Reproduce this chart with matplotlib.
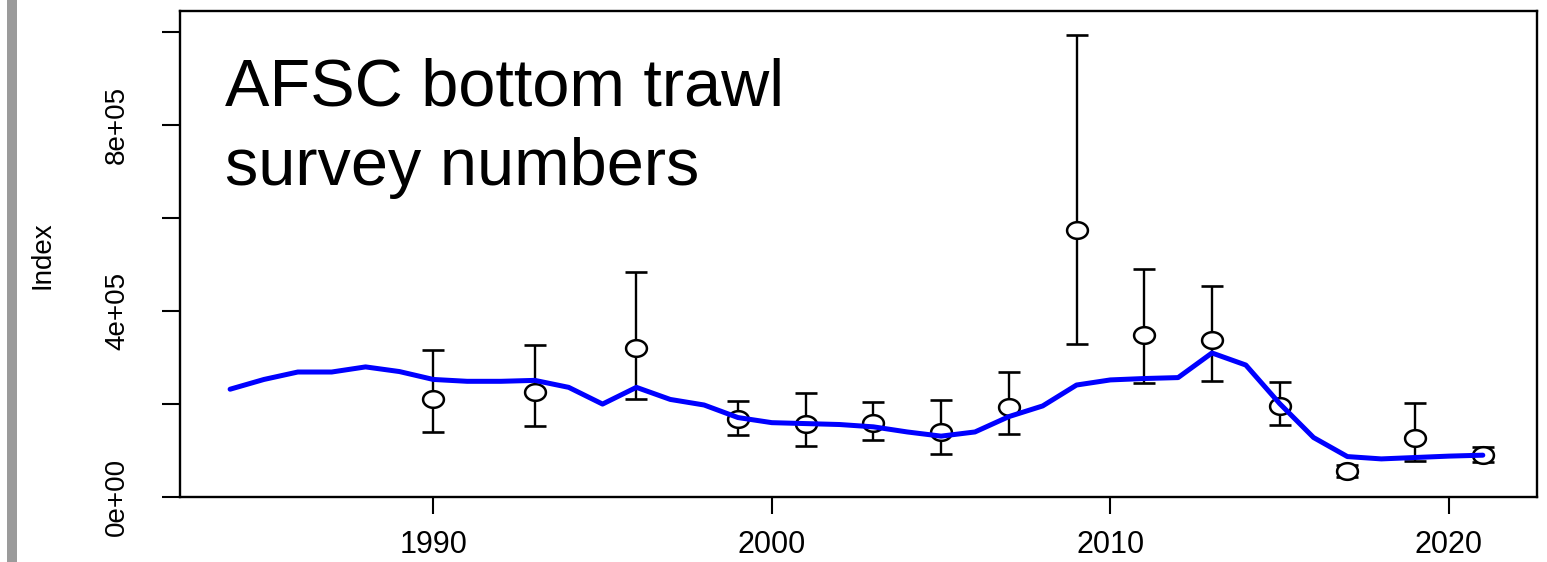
import numpy as np
import matplotlib
matplotlib.use("Agg")
import matplotlib.pyplot as plt
from matplotlib.path import Path
from matplotlib.patches import Rectangle
from matplotlib.ticker import FixedLocator, FixedFormatter

# ---- data ----
fit_years = list(range(1984, 2022))
fit_values = [232e3, 253e3, 269e3, 269e3, 280e3, 270e3, 253e3, 249e3, 249e3, 251e3,
              236e3, 200e3, 236e3, 210e3, 198e3, 171e3, 160e3, 158e3, 156e3, 151e3,
              140e3, 131e3, 140e3, 173e3, 196e3, 241e3, 252e3, 255e3, 257e3, 310e3,
              284e3, 201e3, 128e3, 87e3, 82e3, 85e3, 88e3, 90e3]

obs_years = [1990, 1993, 1996, 1999, 2001, 2003, 2005, 2007, 2009, 2011, 2013, 2015, 2017, 2019, 2021]
obs_values = [211e3, 225e3, 320e3, 168e3, 158e3, 160e3, 140e3, 193e3, 574e3, 348e3, 338e3, 196e3, 56e3, 126e3, 90e3]
obs_lower = [140e3, 153e3, 210e3, 133e3, 110e3, 123e3, 92e3, 135e3, 330e3, 246e3, 249e3, 155e3, 44e3, 78e3, 75e3]
obs_upper = [316e3, 327e3, 484e3, 206e3, 223e3, 205e3, 209e3, 269e3, 994e3, 490e3, 454e3, 247e3, 69e3, 203e3, 108e3]

x_ticks = [1990, 2000, 2010, 2020]
y_ticks = [0, 2e5, 4e5, 6e5, 8e5, 1e6]
y_ticklabels = ["0e+00", "", "4e+05", "", "8e+05", ""]

title_lines = ["AFSC bottom trawl", "survey numbers"]
ylabel_text = "Index"

# ---- figure ----
plt.rcParams['font.family'] = ['Liberation Sans', 'DejaVu Sans']
fig = plt.figure(figsize=(15.47, 5.62), dpi=100)
ax = fig.add_axes([180 / 1547, 65 / 562, 1357 / 1547, 486 / 562])

# grey slide bar at the far left
fig.patches.append(Rectangle((7 / 1547, 0), 10 / 1547, 1, transform=fig.transFigure,
                             facecolor="#9b9b9b", edgecolor="none", zorder=0))

# elliptical open-circle marker (slightly wider than tall, as in the reference)
t = np.linspace(0, 2 * np.pi, 64)
ell = Path(np.column_stack([np.cos(t), 0.8 * np.sin(t)]), closed=True)

yv = np.array(obs_values)
yerr = np.vstack([yv - np.array(obs_lower), np.array(obs_upper) - yv])
ax.errorbar(obs_years, obs_values, yerr=yerr, fmt="none", ecolor="black",
            elinewidth=1.7, capsize=8, capthick=1.9, zorder=2)
ax.plot(obs_years, obs_values, linestyle="none", marker=ell, markersize=15,
        markerfacecolor="white", markeredgecolor="black", markeredgewidth=1.8, zorder=3)
ax.plot(fit_years, fit_values, color="#0000ff", linewidth=3.6, zorder=4,
        solid_joinstyle="round", solid_capstyle="round")

ax.set_xlim(1982.52, 2022.6)
ax.set_ylim(0, 1.046e6)

ax.xaxis.set_major_locator(FixedLocator(x_ticks))
ax.set_xticklabels([str(v) for v in x_ticks])
ax.yaxis.set_major_locator(FixedLocator(y_ticks))
ax.yaxis.set_major_formatter(FixedFormatter(y_ticklabels))

ax.tick_params(axis="x", length=12, width=1.5, pad=12, labelsize=22)
ax.tick_params(axis="y", length=13, width=1.5, pad=23, labelsize=20, labelrotation=90)
for lab in ax.get_yticklabels():
    lab.set_va("center")

for s in ax.spines.values():
    s.set_linewidth(1.7)
    s.set_color("black")

fig.text(43 / 1547, 1 - 255 / 562, ylabel_text, rotation=90, fontsize=20,
         ha="center", va="center")

fig.text(225 / 1547, 1 - 105 / 562, title_lines[0], fontsize=48, ha="left", va="baseline")
fig.text(225 / 1547, 1 - 185 / 562, title_lines[1], fontsize=48, ha="left", va="baseline")

fig.savefig("out.png", dpi=100)
